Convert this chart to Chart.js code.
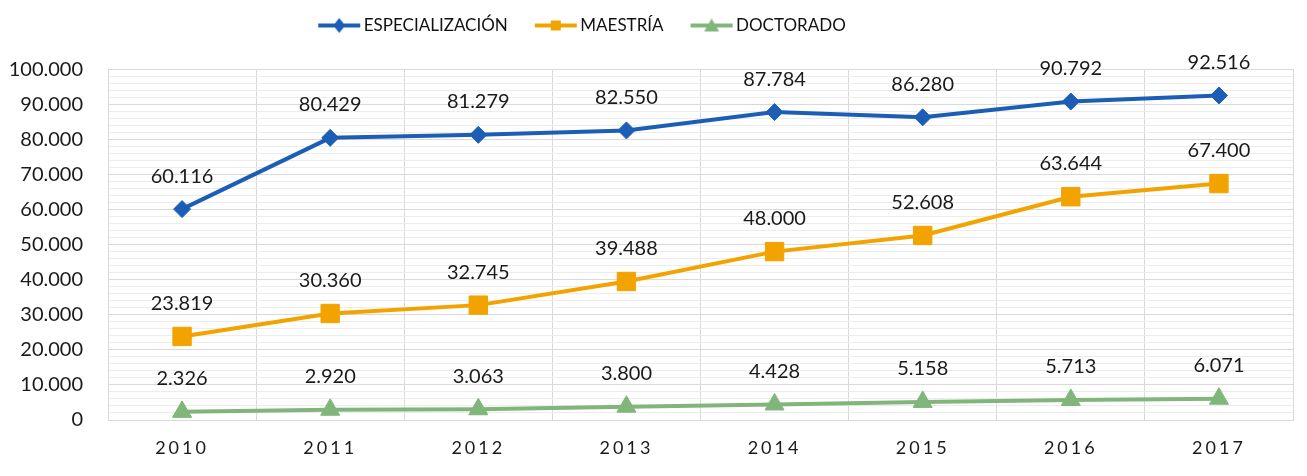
<!DOCTYPE html>
<html>
<head>
<meta charset="utf-8">
<script src="https://cdn.jsdelivr.net/npm/chart.js@4.4.1/dist/chart.umd.min.js"></script>
<style>
  html, body { margin: 0; padding: 0; background: #ffffff; }
  #wrap { width: 1307px; height: 476px; position: relative; }
</style>
</head>
<body>
<div id="wrap"><canvas id="c"></canvas></div>
<script>
// ---- data ----
const categories = ['2010', '2011', '2012', '2013', '2014', '2015', '2016', '2017'];
const seriesNames = ['ESPECIALIZACIÓN', 'MAESTRÍA', 'DOCTORADO'];
const especializacion = [60116, 80429, 81279, 82550, 87784, 86280, 90792, 92516];
const maestria = [23819, 30360, 32745, 39488, 48000, 52608, 63644, 67400];
const doctorado = [2326, 2920, 3063, 3800, 4428, 5158, 5713, 6071];
const yMajorTicks = [0, 10000, 20000, 30000, 40000, 50000, 60000, 70000, 80000, 90000, 100000];
const yMinorStep = 2000;

// ---- styles ----
const COLORS = ['#1c5eb5', '#f3a300', '#80b67a'];
const POINT_STYLES = ['rectRot', 'rect', 'triangle'];
const POINT_RADII = [8.5, 13, 11];
const FONT = 'Lato';
const LEGEND_CENTER = 582;

function fmt(n) {
  return String(n).replace(/\B(?=(\d{3})+(?!\d))/g, '.');
}

// legend icon: short line with marker
function legendIcon(color, style) {
  const W = 66, H = 20;
  const c = document.createElement('canvas');
  c.width = W; c.height = H;
  const g = c.getContext('2d');
  g.strokeStyle = color; g.fillStyle = color; g.lineWidth = 4;
  g.beginPath(); g.moveTo(23, 10); g.lineTo(65, 10); g.stroke();
  const cx = 44, cy = 10;
  g.beginPath();
  if (style === 'rectRot') {
    g.moveTo(cx, cy - 7.5); g.lineTo(cx + 6, cy); g.lineTo(cx, cy + 7.5); g.lineTo(cx - 6, cy); g.closePath();
  } else if (style === 'rect') {
    g.rect(cx - 5, cy - 5, 10, 10);
  } else {
    g.moveTo(cx, cy - 7); g.lineTo(cx + 7.5, cy + 6); g.lineTo(cx - 7.5, cy + 6); g.closePath();
  }
  g.fill();
  return c;
}

const allSeries = [especializacion, maestria, doctorado];
const datasets = allSeries.map((vals, i) => ({
  label: seriesNames[i],
  data: vals,
  borderColor: COLORS[i],
  backgroundColor: COLORS[i],
  borderWidth: 4,
  pointStyle: POINT_STYLES[i],
  pointRadius: POINT_RADII[i],
  pointHoverRadius: POINT_RADII[i],
  pointBorderWidth: 1,
  pointBackgroundColor: COLORS[i],
  pointBorderColor: COLORS[i],
  tension: 0,
  fill: false
}));

const icons = COLORS.map((c, i) => legendIcon(c, POINT_STYLES[i]));

const dataLabels = {
  id: 'dataLabels',
  afterDatasetsDraw(chart) {
    const ctx = chart.ctx;
    ctx.save();
    ctx.font = '20px ' + FONT;
    ctx.fillStyle = '#1a1a1a';
    ctx.textAlign = 'center';
    ctx.textBaseline = 'middle';
    chart.data.datasets.forEach((ds, di) => {
      const meta = chart.getDatasetMeta(di);
      meta.data.forEach((pt, j) => {
        ctx.fillText(fmt(ds.data[j]), pt.x, pt.y - 33);
      });
    });
    ctx.restore();
  }
};

const layoutTweaks = {
  id: 'layoutTweaks',
  afterLayout(chart) {
    const lg = chart.legend;
    if (lg) {
      // center the legend row around LEGEND_CENTER
      lg.right = 2 * LEGEND_CENTER - 17 - lg.left;
    }
  },
  beforeDraw(chart) {
    const sc = chart.scales.x;
    if (sc && !sc.__ls) {
      const orig = sc.drawLabels;
      sc.drawLabels = function (area) {
        this.ctx.save();
        try { this.ctx.letterSpacing = '3px'; } catch (e) {}
        orig.call(this, area);
        this.ctx.restore();
      };
      sc.__ls = true;
    }
  }
};

Chart.defaults.font.family = FONT;
Chart.defaults.color = '#1a1a1a';

new Chart(document.getElementById('c'), {
  type: 'line',
  data: { labels: categories, datasets: datasets },
  options: {
    responsive: true,
    maintainAspectRatio: false,
    animation: false,
    layout: { padding: { left: 8, right: 9, top: 7, bottom: 0 } },
    plugins: {
      tooltip: { enabled: false },
      legend: {
        display: true,
        position: 'top',
        labels: {
          usePointStyle: true,
          pointStyleWidth: 54,
          padding: 10,
          color: '#111111',
          font: { size: 17, family: FONT },
          generateLabels(chart) {
            return chart.data.datasets.map((ds, i) => ({
              text: ds.label,
              pointStyle: icons[i],
              fillStyle: COLORS[i],
              strokeStyle: COLORS[i],
              lineWidth: 0,
              hidden: false,
              datasetIndex: i,
              fontColor: '#111111'
            }));
          }
        }
      },
      subtitle: {
        display: true,
        text: ' ',
        position: 'top',
        weight: 500,
        font: { size: 1 },
        padding: { top: 0, bottom: 24 }
      }
    },
    scales: {
      x: {
        type: 'category',
        offset: true,
        afterFit(scale) { scale.height = 56; },
        grid: { offset: true, color: '#d9d9d9', lineWidth: 1, drawTicks: false },
        border: { display: true, color: '#d9d9d9' },
        ticks: { padding: 17, color: '#1a1a1a', font: { size: 18, family: FONT }, maxRotation: 0, autoSkip: false }
      },
      y: {
        type: 'linear',
        min: 0,
        max: 100000,
        afterFit(scale) { scale.width = 100; },
        afterBuildTicks(scale) {
          const t = [];
          const top = yMajorTicks[yMajorTicks.length - 1];
          for (let v = 0; v <= top; v += yMinorStep) t.push({ value: v });
          scale.ticks = t;
        },
        grid: {
          drawTicks: false,
          lineWidth: 1,
          color(ctx) {
            return (ctx.tick && yMajorTicks.includes(ctx.tick.value)) ? '#d9d9d9' : '#ececec';
          }
        },
        border: { display: true, color: '#d9d9d9' },
        ticks: {
          autoSkip: false,
          padding: 25,
          color: '#1a1a1a',
          font: { size: 20, family: FONT },
          callback(v) { return yMajorTicks.includes(v) ? fmt(v) : ''; }
        }
      }
    }
  },
  plugins: [dataLabels, layoutTweaks]
});
</script>
</body>
</html>
